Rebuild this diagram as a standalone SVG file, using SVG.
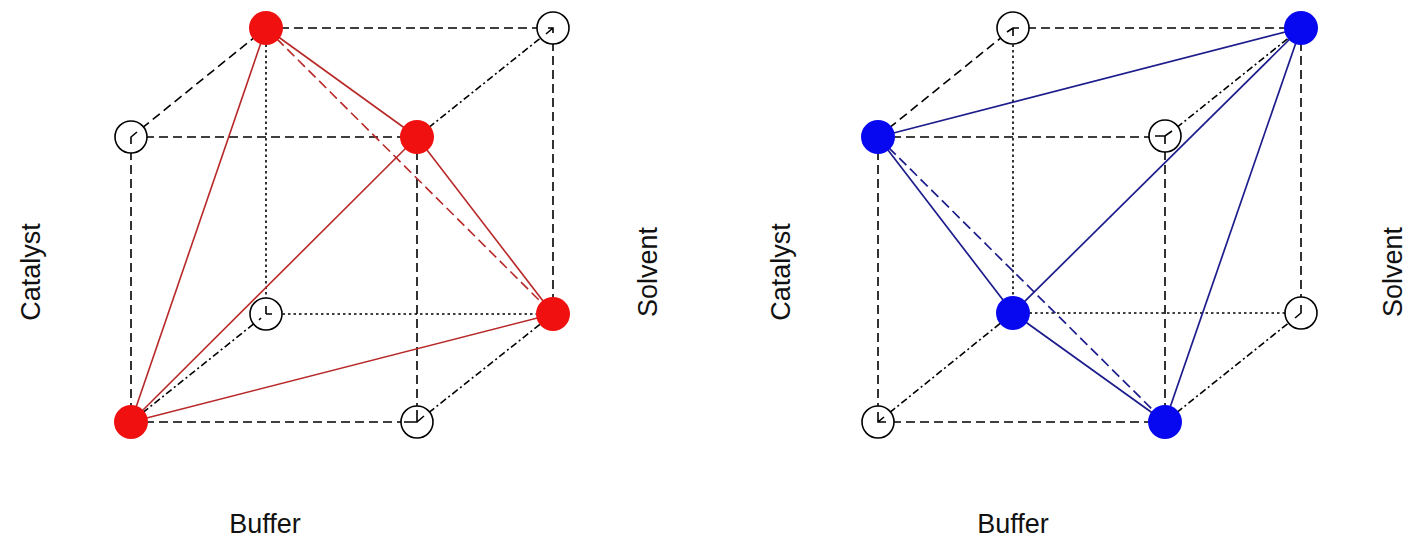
<svg xmlns="http://www.w3.org/2000/svg" width="1408" height="540" viewBox="0 0 1408 540">
<style>
.dash{stroke:#000;stroke-width:1.6;fill:none;stroke-dasharray:9 5}
.dot{stroke:#000;stroke-width:1.6;fill:none;stroke-dasharray:2.5 3}
.dd{stroke:#000;stroke-width:1.6;fill:none;stroke-dasharray:7 3 2 3}
.tick{stroke:#000;stroke-width:1.6;fill:none}
.open{fill:#fff;stroke:#000;stroke-width:1.6}
.red{fill:#f01010}
.blue{fill:#0808f0}
.rl{stroke:#b82828;stroke-width:1.6;fill:none}
.rld{stroke:#b82828;stroke-width:1.6;fill:none;stroke-dasharray:10 5}
.bl{stroke:#1c1c8c;stroke-width:1.7;fill:none}
.bld{stroke:#1c1c8c;stroke-width:1.7;fill:none;stroke-dasharray:10 5}
.lbl{font-family:"Liberation Sans",Arial,sans-serif;font-size:27px;fill:#111;text-anchor:middle}
</style>
<g id="cube-left-edges">
<line class="dash" x1="131" y1="137" x2="417" y2="137"/>
<line class="dash" x1="131" y1="137" x2="131" y2="422"/>
<line class="dash" x1="131" y1="422" x2="417" y2="422"/>
<line class="dash" x1="417" y1="137" x2="417" y2="422"/>
<line class="dash" x1="266" y1="28" x2="553" y2="28"/>
<line class="dash" x1="553" y1="28" x2="553" y2="314"/>
<line class="dot" x1="266" y1="28" x2="266" y2="314"/>
<line class="dot" x1="266" y1="314" x2="553" y2="314"/>
<line class="dash" x1="131" y1="137" x2="266" y2="28"/>
<line class="dd" x1="417" y1="137" x2="553" y2="28"/>
<line class="dd" x1="417" y1="422" x2="553" y2="314"/>
<line class="dd" x1="131" y1="422" x2="266" y2="314"/>
</g>
<g id="tetra-red">
<line class="rl" x1="266" y1="28" x2="131" y2="422"/>
<line class="rl" x1="266" y1="28" x2="417" y2="137"/>
<line class="rld" x1="266" y1="28" x2="553" y2="314"/>
<line class="rl" x1="417" y1="137" x2="131" y2="422"/>
<line class="rl" x1="417" y1="137" x2="553" y2="314"/>
<line class="rl" x1="131" y1="422" x2="553" y2="314"/>
</g>
<g id="node-L-ftl"><circle class="open" cx="131" cy="137" r="16"/><path class="tick" d="M131 144 V137 L137 132"/></g>
<g id="node-L-btr"><circle class="open" cx="553" cy="28" r="16"/><path class="tick" d="M546 34 L553 28 M548 28 H553 V33"/></g>
<g id="node-L-bbl"><circle class="open" cx="266" cy="314" r="16"/><path class="tick" d="M266 306 V314 M266 314 H272 M261 318 L259 320"/></g>
<g id="node-L-fbr"><circle class="open" cx="417" cy="422" r="16"/><path class="tick" d="M417 410 V422 H404 M417 422 L424 416"/></g>
<g id="node-L-btl"><circle class="red" cx="266" cy="28" r="17"/></g>
<g id="node-L-ftr"><circle class="red" cx="417" cy="137" r="17"/></g>
<g id="node-L-bbr"><circle class="red" cx="553" cy="314" r="17"/></g>
<g id="node-L-fbl"><circle class="red" cx="131" cy="422" r="17"/></g>

<g id="cube-right-edges">
<line class="dash" x1="878" y1="137" x2="1165" y2="137"/>
<line class="dash" x1="878" y1="137" x2="878" y2="422"/>
<line class="dash" x1="878" y1="422" x2="1165" y2="422"/>
<line class="dash" x1="1165" y1="137" x2="1165" y2="422"/>
<line class="dash" x1="1013" y1="28" x2="1301" y2="28"/>
<line class="dash" x1="1301" y1="28" x2="1301" y2="313"/>
<line class="dot" x1="1013" y1="28" x2="1013" y2="313"/>
<line class="dot" x1="1013" y1="313" x2="1301" y2="313"/>
<line class="dash" x1="878" y1="137" x2="1013" y2="28"/>
<line class="dd" x1="1165" y1="137" x2="1301" y2="28"/>
<line class="dd" x1="1165" y1="422" x2="1301" y2="313"/>
<line class="dd" x1="878" y1="422" x2="1013" y2="313"/>
</g>
<g id="tetra-blue">
<line class="bl" x1="878" y1="137" x2="1301" y2="28"/>
<line class="bl" x1="1301" y1="28" x2="1013" y2="313"/>
<line class="bl" x1="1301" y1="28" x2="1165" y2="422"/>
<line class="bl" x1="878" y1="137" x2="1013" y2="313"/>
<line class="bl" x1="1013" y1="313" x2="1165" y2="422"/>
<line class="bld" x1="878" y1="137" x2="1165" y2="422"/>
</g>
<g id="node-R-btl"><circle class="open" cx="1013" cy="28" r="16"/><path class="tick" d="M1007 32 L1013 28 H1019 M1013 28 V36"/></g>
<g id="node-R-ftr"><circle class="open" cx="1165" cy="136" r="16"/><path class="tick" d="M1155 136 H1165 L1172 131 M1165 136 V144"/></g>
<g id="node-R-bbr"><circle class="open" cx="1301" cy="313" r="16"/><path class="tick" d="M1301 305 V313 L1295 318"/></g>
<g id="node-R-fbl"><circle class="open" cx="878" cy="422" r="16"/><path class="tick" d="M878 412 V422 H886 M878 422 L884 417"/></g>
<g id="node-R-btr"><circle class="blue" cx="1301" cy="28" r="17"/></g>
<g id="node-R-ftl"><circle class="blue" cx="878" cy="137" r="17"/></g>
<g id="node-R-bbl"><circle class="blue" cx="1013" cy="313" r="17"/></g>
<g id="node-R-fbr"><circle class="blue" cx="1165" cy="422" r="17"/></g>

<g id="labels">
<text class="lbl" transform="translate(40,272) rotate(-90)">Catalyst</text>
<text class="lbl" transform="translate(657,272) rotate(-90)">Solvent</text>
<text class="lbl" x="265" y="533">Buffer</text>
<text class="lbl" transform="translate(790,272) rotate(-90)">Catalyst</text>
<text class="lbl" transform="translate(1402,272) rotate(-90)">Solvent</text>
<text class="lbl" x="1013" y="533">Buffer</text>
</g>
</svg>
